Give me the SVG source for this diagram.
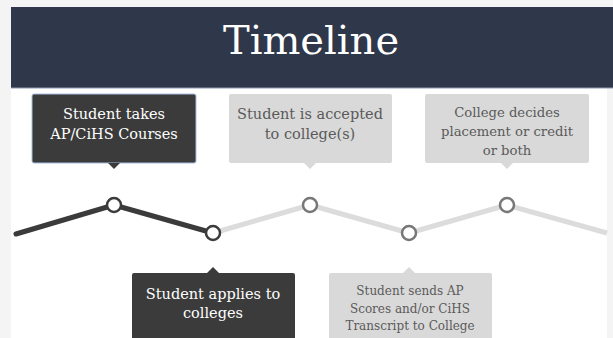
<svg xmlns="http://www.w3.org/2000/svg" width="613" height="338" viewBox="0 0 613 338">
<style>
.t{font-family:"DejaVu Serif","Liberation Serif",serif;text-anchor:middle}
.dk{fill:#3b3b3b}
.lt{fill:#d9d9d9}
.wt{fill:#ffffff}
.gt{fill:#5a5a5a}
.nd{fill:#ffffff;stroke-width:2.5}
</style>
<rect x="0" y="0" width="613" height="338" fill="#f4f4f4"/>
<rect x="11" y="7" width="596" height="331" fill="#ffffff"/>
<g id="header">
<rect x="11" y="7" width="602" height="81" fill="#2f374a"/>
<line x1="11" y1="88" x2="613" y2="88" stroke="#8d9bb5" stroke-width="1"/>
<text class="t" x="311" y="54" font-size="40" fill="#ffffff" font-family="Liberation Serif,serif">Timeline</text>
</g>
<g id="connectors">
<polyline points="213,233 310,205 409,233 507,205 607,233" fill="none" stroke="#dcdcdc" stroke-width="5" stroke-linejoin="round"/>
<polyline points="16,234 114,205 213,233" fill="none" stroke="#3b3b3b" stroke-width="5" stroke-linecap="round" stroke-linejoin="round"/>
</g>
<g id="n1">
<rect x="32" y="94" width="164" height="69" rx="2" class="dk" stroke="#a8bde4" stroke-width="1"/>
<polygon points="108,163 120,163 114,169" class="dk"/>
<text class="t wt" x="114" y="119" font-size="14.5">Student takes</text>
<text class="t wt" x="114" y="139" font-size="14.5">AP/CiHS Courses</text>
<circle cx="114" cy="205" r="7" class="nd" stroke="#3b3b3b"/>
</g>
<g id="n2">
<polygon points="207,273 219,273 213,267" class="dk"/>
<rect x="132" y="273" width="163" height="70" rx="2" class="dk"/>
<text class="t wt" x="213" y="299" font-size="14.5">Student applies to</text>
<text class="t wt" x="213" y="318" font-size="14.5">colleges</text>
<circle cx="213" cy="233" r="7" class="nd" stroke="#3b3b3b"/>
</g>
<g id="n3">
<rect x="229" y="94" width="163" height="69" rx="2" class="lt"/>
<polygon points="304,163 316,163 310,169" class="lt"/>
<text class="t gt" x="310" y="119" font-size="14.5">Student is accepted</text>
<text class="t gt" x="310" y="139" font-size="14.5">to college(s)</text>
<circle cx="310" cy="205" r="7" class="nd" stroke="#777777"/>
</g>
<g id="n4">
<polygon points="403,273 415,273 409,267" class="lt"/>
<rect x="329" y="273" width="163" height="70" rx="2" class="lt"/>
<text class="t gt" x="410" y="295" font-size="12">Student sends AP</text>
<text class="t gt" x="410" y="313" font-size="12">Scores and/or CiHS</text>
<text class="t gt" x="410" y="330" font-size="12">Transcript to College</text>
<circle cx="409" cy="233" r="7" class="nd" stroke="#777777"/>
</g>
<g id="n5">
<rect x="425" y="94" width="164" height="69" rx="2" class="lt"/>
<polygon points="501,163 513,163 507,169" class="lt"/>
<text class="t gt" x="507" y="117" font-size="13.2">College decides</text>
<text class="t gt" x="507" y="136" font-size="13.2">placement or credit</text>
<text class="t gt" x="507" y="155" font-size="13.2">or both</text>
<circle cx="507" cy="205" r="7" class="nd" stroke="#777777"/>
</g>
</svg>
